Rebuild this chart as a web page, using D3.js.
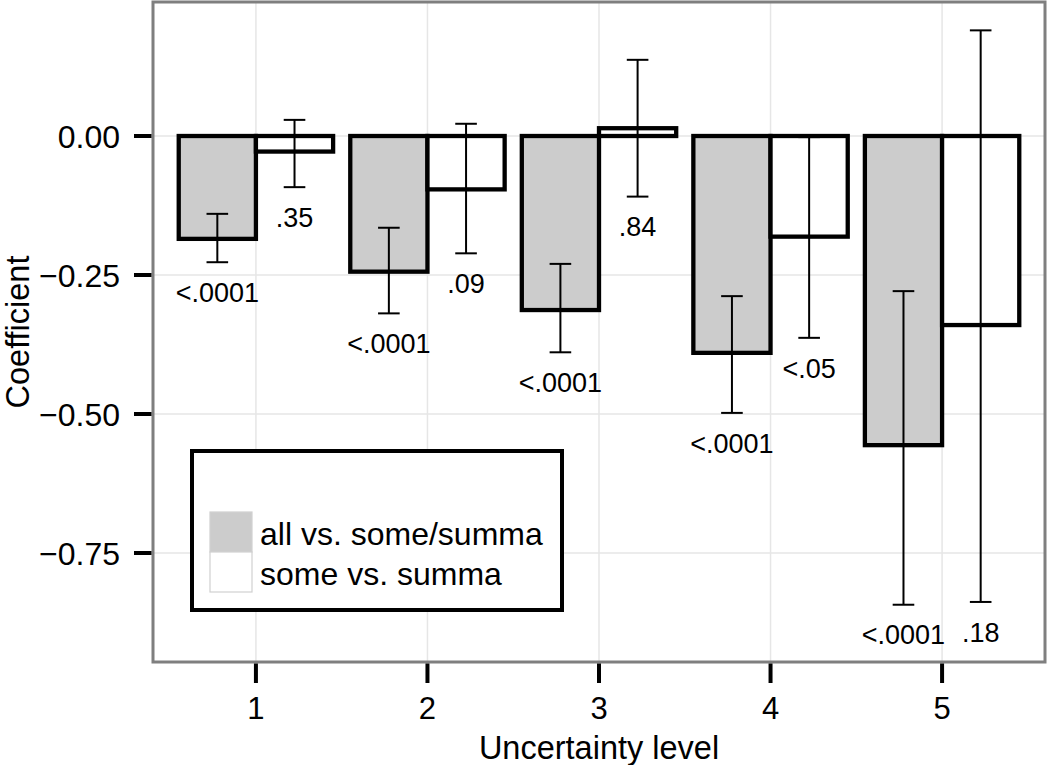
<!DOCTYPE html>
<html>
<head>
<meta charset="utf-8">
<script src="https://cdn.jsdelivr.net/npm/d3@7"></script>
<style>
  html, body { margin: 0; padding: 0; background: #fff; }
  text { font-family: "Liberation Sans", Arial, Helvetica, sans-serif; fill: #000; }
</style>
</head>
<body>
<div id="chart"></div>
<script>
const levels = [1, 2, 3, 4, 5];
const seriesNames = ["all vs. some/summa", "some vs. summa"];

const allCoef  = [-0.185, -0.244, -0.313, -0.390, -0.556];
const allLow   = [-0.227, -0.319, -0.389, -0.498, -0.843];
const allHigh  = [-0.140, -0.165, -0.230, -0.288, -0.279];
const allP     = ["<.0001", "<.0001", "<.0001", "<.0001", "<.0001"];

const someCoef = [-0.028, -0.096, 0.014, -0.181, -0.340];
const someLow  = [-0.092, -0.211, -0.109, -0.363, -0.838];
const someHigh = [0.029, 0.022, 0.137, -0.002, 0.190];
const someP    = [".35", ".09", ".84", "<.05", ".18"];

const yTicks = [0, -0.25, -0.5, -0.75];

const W = 1050, H = 765;
const panel = { left: 153, right: 1045, top: 2, bottom: 662 };

const svg = d3.select("#chart").append("svg")
  .attr("width", W).attr("height", H)
  .attr("viewBox", `0 0 ${W} ${H}`);

const x = d3.scalePoint().domain(levels).range([panel.left, panel.right]).padding(0.6);
const y = d3.scaleLinear().domain([-0.946, 0.241]).range([panel.bottom, panel.top]);
const step = x.step();
const barW = 0.45 * step;
const capHalf = 0.063 * step;

const fills = ["#cccccc", "#ffffff"];

// grid
svg.append("g").selectAll("line.gy")
  .data(yTicks).enter().append("line")
  .attr("x1", panel.left).attr("x2", panel.right)
  .attr("y1", d => y(d)).attr("y2", d => y(d))
  .attr("stroke", "#e6e6e6").attr("stroke-width", 1.5);
svg.append("g").selectAll("line.gx")
  .data(levels).enter().append("line")
  .attr("x1", d => x(d)).attr("x2", d => x(d))
  .attr("y1", panel.top).attr("y2", panel.bottom)
  .attr("stroke", "#e6e6e6").attr("stroke-width", 1.5);

// rows
const rows = [];
levels.forEach((lv, i) => {
  rows.push({ lv, s: 0, v: allCoef[i], lo: allLow[i], hi: allHigh[i], p: allP[i] });
  rows.push({ lv, s: 1, v: someCoef[i], lo: someLow[i], hi: someHigh[i], p: someP[i] });
});
const left = d => x(d.lv) - barW + d.s * barW;
const mid = d => left(d) + barW / 2;

svg.append("g").selectAll("rect")
  .data(rows).enter().append("rect")
  .attr("x", left)
  .attr("width", barW)
  .attr("y", d => y(Math.max(0, d.v)))
  .attr("height", d => Math.abs(y(d.v) - y(0)))
  .attr("fill", d => fills[d.s])
  .attr("stroke", "#000").attr("stroke-width", 4.3);

const eb = svg.append("g").attr("stroke", "#000").attr("stroke-width", 2);
eb.selectAll("line.v").data(rows).enter().append("line")
  .attr("x1", mid).attr("x2", mid)
  .attr("y1", d => y(d.lo)).attr("y2", d => y(d.hi));
eb.selectAll("line.lo").data(rows).enter().append("line")
  .attr("x1", d => mid(d) - capHalf).attr("x2", d => mid(d) + capHalf)
  .attr("y1", d => y(d.lo)).attr("y2", d => y(d.lo));
eb.selectAll("line.hi").data(rows).enter().append("line")
  .attr("x1", d => mid(d) - capHalf).attr("x2", d => mid(d) + capHalf)
  .attr("y1", d => y(d.hi)).attr("y2", d => y(d.hi));

// p-value labels
svg.append("g").selectAll("text")
  .data(rows).enter().append("text")
  .attr("x", mid)
  .attr("y", d => y(d.lo) + 30)
  .attr("dy", "0.36em")
  .attr("text-anchor", "middle")
  .attr("font-size", 27)
  .text(d => d.p);

// legend
const lg = svg.append("g");
lg.append("rect")
  .attr("x", 192).attr("y", 451).attr("width", 370).attr("height", 159)
  .attr("fill", "#fff").attr("stroke", "#000").attr("stroke-width", 4);
seriesNames.forEach((name, i) => {
  lg.append("rect")
    .attr("x", 210).attr("y", 512 + i * 40).attr("width", 42).attr("height", 40)
    .attr("fill", fills[i]).attr("stroke", "#d0d0d0").attr("stroke-width", 1.2);
  lg.append("text")
    .attr("x", 260).attr("y", 533 + i * 40).attr("dy", "0.36em")
    .attr("font-size", 32)
    .text(name);
});

// panel border
svg.append("rect")
  .attr("x", panel.left).attr("y", panel.top)
  .attr("width", panel.right - panel.left).attr("height", panel.bottom - panel.top)
  .attr("fill", "none").attr("stroke", "#7f7f7f").attr("stroke-width", 3);

// y axis
const ya = svg.append("g");
ya.selectAll("line").data(yTicks).enter().append("line")
  .attr("x1", 134).attr("x2", panel.left - 1.5)
  .attr("y1", d => y(d)).attr("y2", d => y(d))
  .attr("stroke", "#000").attr("stroke-width", 4);
ya.selectAll("text").data(yTicks).enter().append("text")
  .attr("x", 120).attr("y", d => y(d)).attr("dy", "0.36em")
  .attr("text-anchor", "end").attr("font-size", 32)
  .text(d => d3.format(".2f")(d).replace("-", "\u2212"));

// x axis
const xa = svg.append("g");
xa.selectAll("line").data(levels).enter().append("line")
  .attr("x1", d => x(d)).attr("x2", d => x(d))
  .attr("y1", panel.bottom + 1.5).attr("y2", 683)
  .attr("stroke", "#000").attr("stroke-width", 4);
xa.selectAll("text").data(levels).enter().append("text")
  .attr("x", d => x(d)).attr("y", 719)
  .attr("text-anchor", "middle").attr("font-size", 31)
  .text(d => d);

// axis titles
svg.append("text")
  .attr("x", (panel.left + panel.right) / 2).attr("y", 759)
  .attr("text-anchor", "middle").attr("font-size", 32.5)
  .text("Uncertainty level");
svg.append("text")
  .attr("transform", `translate(29,${(panel.top + panel.bottom) / 2}) rotate(-90)`)
  .attr("text-anchor", "middle").attr("font-size", 32.5)
  .text("Coefficient");
</script>
</body>
</html>
